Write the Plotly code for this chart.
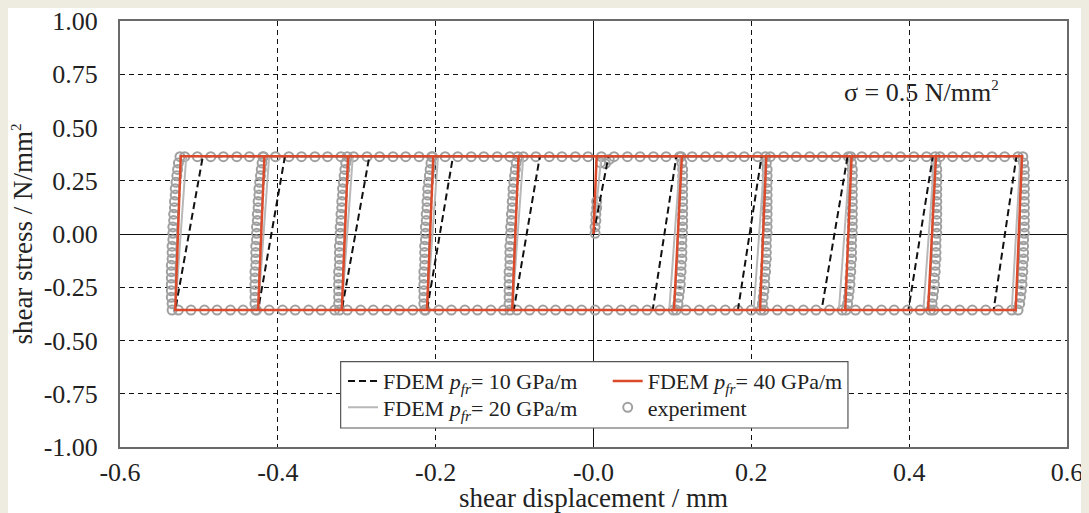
import plotly.graph_objects as go

# ---------------- data ----------------
# FDEM p_fr = 40 GPa/m (red)
fdem40_x = [0.000, 0.004, 0.112, 0.102, -0.103, -0.095, 0.219, 0.211, -0.211, -0.203,
            0.327, 0.319, -0.319, -0.311, 0.434, 0.424, -0.425, -0.417, 0.543, 0.535,
            -0.530, -0.523, 0.000]
fdem40_y = [0.000, 0.365, 0.365, -0.357, -0.357, 0.365, 0.365, -0.357, -0.357, 0.365,
            0.365, -0.357, -0.357, 0.365, 0.365, -0.357, -0.357, 0.365, 0.365, -0.357,
            -0.357, 0.365, 0.365]

# FDEM p_fr = 10 GPa/m (black dashed)
fdem10_x = [0.000, 0.019, 0.105, 0.075, -0.101, -0.068, 0.213, 0.183, -0.211, -0.178,
            0.322, 0.289, -0.319, -0.284, 0.430, 0.399, -0.425, -0.391, 0.536, 0.507,
            -0.530, -0.495, 0.000]
fdem10_y = [0.000, 0.365, 0.365, -0.357, -0.357, 0.365, 0.365, -0.357, -0.357, 0.365,
            0.365, -0.357, -0.357, 0.365, 0.365, -0.357, -0.357, 0.365, 0.365, -0.357,
            -0.357, 0.365, 0.365]

# FDEM p_fr = 20 GPa/m (grey)
fdem20_x = [0.000, 0.010, 0.110, 0.096, -0.103, -0.089, 0.217, 0.203, -0.211, -0.197,
            0.325, 0.311, -0.319, -0.305, 0.432, 0.418, -0.425, -0.411, 0.541, 0.530,
            -0.530, -0.516, 0.000]
fdem20_y = [0.000, 0.365, 0.365, -0.357, -0.357, 0.365, 0.365, -0.357, -0.357, 0.365,
            0.365, -0.357, -0.357, 0.365, 0.365, -0.357, -0.357, 0.365, 0.365, -0.357,
            -0.357, 0.365, 0.365]

# experiment (measured points)
exp_init_x = [0.002, 0.002, 0.003, 0.003, 0.004, 0.004, 0.009, 0.015, 0.020]
exp_init_y = [0.003, 0.033, 0.063, 0.093, 0.123, 0.153, 0.335, 0.330, 0.350]

exp_top_x = [-0.518, -0.502, -0.485, -0.469, -0.452, -0.436, -0.419, -0.403, -0.386, -0.370,
             -0.353, -0.337, -0.320, -0.304, -0.287, -0.271, -0.254, -0.238, -0.221, -0.205,
             -0.188, -0.172, -0.155, -0.139, -0.122, -0.106, -0.089, -0.073, -0.056, -0.040,
             -0.023, -0.007, 0.010, 0.026, 0.043, 0.059, 0.076, 0.092, 0.109, 0.125,
             0.142, 0.158, 0.175, 0.191, 0.208, 0.224, 0.241, 0.257, 0.274, 0.290,
             0.307, 0.323, 0.340, 0.356, 0.373, 0.389, 0.406, 0.422, 0.439, 0.455,
             0.472, 0.488, 0.505, 0.521, 0.538]
exp_top_y = 0.363

exp_bot_x = [-0.526, -0.510, -0.493, -0.477, -0.460, -0.444, -0.427, -0.411, -0.394, -0.378,
             -0.361, -0.345, -0.328, -0.312, -0.295, -0.279, -0.262, -0.246, -0.229, -0.213,
             -0.196, -0.180, -0.163, -0.147, -0.130, -0.114, -0.097, -0.081, -0.064, -0.048,
             -0.031, -0.015, 0.002, 0.018, 0.035, 0.051, 0.068, 0.084, 0.101, 0.117,
             0.134, 0.150, 0.167, 0.183, 0.200, 0.216, 0.233, 0.249, 0.266, 0.282,
             0.299, 0.315, 0.332, 0.348, 0.365, 0.381, 0.398, 0.414, 0.431, 0.447,
             0.464, 0.480, 0.497, 0.513, 0.530]
exp_bot_y = -0.357

# stress levels of the points recorded along each reversal
exp_rev_tau = [-0.357, -0.327, -0.297, -0.267, -0.237, -0.207, -0.177, -0.147, -0.117, -0.087,
               -0.057, -0.027, 0.003, 0.033, 0.063, 0.093, 0.123, 0.153, 0.183, 0.213,
               0.243, 0.273, 0.303, 0.333, 0.363]

exp_rev_x = [
    [-0.534, -0.534, -0.535, -0.535, -0.535, -0.535, -0.535, -0.535, -0.534, -0.534, -0.534, -0.533, -0.533,
     -0.533, -0.532, -0.532, -0.531, -0.531, -0.530, -0.530, -0.529, -0.528, -0.527, -0.526, -0.524],
    [-0.428, -0.429, -0.429, -0.429, -0.429, -0.429, -0.429, -0.428, -0.428, -0.428, -0.428, -0.427, -0.427,
     -0.427, -0.426, -0.426, -0.425, -0.425, -0.424, -0.424, -0.423, -0.422, -0.421, -0.420, -0.418],
    [-0.322, -0.323, -0.323, -0.323, -0.323, -0.323, -0.323, -0.322, -0.322, -0.322, -0.322, -0.321, -0.321,
     -0.321, -0.320, -0.320, -0.319, -0.319, -0.318, -0.318, -0.317, -0.316, -0.315, -0.314, -0.312],
    [-0.214, -0.215, -0.215, -0.215, -0.215, -0.215, -0.215, -0.214, -0.214, -0.214, -0.214, -0.213, -0.213,
     -0.213, -0.212, -0.212, -0.211, -0.211, -0.210, -0.210, -0.209, -0.208, -0.207, -0.206, -0.204],
    [-0.106, -0.107, -0.107, -0.107, -0.107, -0.107, -0.107, -0.106, -0.106, -0.106, -0.106, -0.105, -0.105,
     -0.105, -0.104, -0.104, -0.103, -0.103, -0.102, -0.102, -0.101, -0.100, -0.099, -0.098, -0.096],
    [0.105, 0.107, 0.108, 0.109, 0.110, 0.110, 0.111, 0.111, 0.112, 0.112, 0.112, 0.112, 0.113,
     0.113, 0.113, 0.113, 0.113, 0.113, 0.113, 0.113, 0.113, 0.113, 0.113, 0.112, 0.111],
    [0.212, 0.214, 0.215, 0.216, 0.217, 0.217, 0.218, 0.218, 0.219, 0.219, 0.219, 0.219, 0.220,
     0.220, 0.220, 0.220, 0.220, 0.220, 0.220, 0.220, 0.220, 0.220, 0.220, 0.219, 0.218],
    [0.320, 0.322, 0.323, 0.324, 0.325, 0.325, 0.326, 0.326, 0.327, 0.327, 0.327, 0.327, 0.328,
     0.328, 0.328, 0.328, 0.328, 0.328, 0.328, 0.328, 0.328, 0.328, 0.328, 0.327, 0.326],
    [0.427, 0.429, 0.430, 0.431, 0.432, 0.432, 0.433, 0.433, 0.434, 0.434, 0.434, 0.434, 0.435,
     0.435, 0.435, 0.435, 0.435, 0.435, 0.435, 0.435, 0.435, 0.435, 0.435, 0.434, 0.433],
    [0.538, 0.540, 0.541, 0.542, 0.543, 0.543, 0.544, 0.544, 0.545, 0.545, 0.545, 0.545, 0.546,
     0.546, 0.546, 0.546, 0.546, 0.546, 0.546, 0.546, 0.546, 0.546, 0.546, 0.545, 0.544],
]

x_tickvals = [-0.6, -0.4, -0.2, 0.0, 0.2, 0.4, 0.6]
x_ticktext = ["-0.6", "-0.4", "-0.2", "-0.0", "0.2", "0.4", "0.6"]
y_tickvals = [1.0, 0.75, 0.5, 0.25, 0.0, -0.25, -0.5, -0.75, -1.0]
y_ticktext = ["1.00", "0.75", "0.50", "0.25", "0.00", "-0.25", "-0.50", "-0.75", "-1.00"]

name10 = "FDEM <i>p</i><sub><i>fr</i></sub>= 10 GPa/m"
name20 = "FDEM <i>p</i><sub><i>fr</i></sub>= 20 GPa/m"
name40 = "FDEM <i>p</i><sub><i>fr</i></sub>= 40 GPa/m"

# assemble experiment series
exp_x = list(exp_init_x) + list(exp_top_x) + list(exp_bot_x)
exp_y = list(exp_init_y) + [exp_top_y] * len(exp_top_x) + [exp_bot_y] * len(exp_bot_x)
for col in exp_rev_x:
    exp_x += col
    exp_y += exp_rev_tau

FONT = "Liberation Serif"
TXT = "#222222"

fig = go.Figure()
fig.add_trace(go.Scatter(
    x=exp_x, y=exp_y, mode="markers", name="experiment", legend="legend4",
    marker=dict(symbol="circle-open", size=9, color="#a0a0a0", line=dict(width=2, color="#a0a0a0")),
))
fig.add_trace(go.Scatter(
    x=fdem20_x, y=fdem20_y, mode="lines", name=name20, legend="legend2",
    line=dict(color="#b8b8b8", width=2),
))
fig.add_trace(go.Scatter(
    x=fdem10_x, y=fdem10_y, mode="lines", name=name10, legend="legend",
    line=dict(color="#111111", width=2, dash="7px,4px"),
))
fig.add_trace(go.Scatter(
    x=fdem40_x, y=fdem40_y, mode="lines", name=name40, legend="legend3",
    line=dict(color="#dc4a2c", width=2.5),
))

fig.add_annotation(
    x=0.846, y=0.834, xref="paper", yref="paper", showarrow=False,
    xanchor="center", yanchor="middle",
    text="σ = 0.5 N/mm<sup><span style='font-size:15px'>2</span></sup>",
    font=dict(family=FONT, size=26, color=TXT),
)

# legend frame
fig.add_shape(type="rect", xref="paper", yref="paper", x0=0.233, x1=0.7687, y0=0.0446, y1=0.2002,
              fillcolor="white", line=dict(width=1.2, color="#555555"), layer="above")

axis_common = dict(
    automargin=False, ticklabeloverflow="allow",
    showgrid=True, gridcolor="#111111", gridwidth=1, griddash="5px,4px",
    zeroline=True, zerolinecolor="#111111", zerolinewidth=1,
    showline=True, mirror=True, linecolor="#6a6a6a", linewidth=2,
    ticks="", tickfont=dict(family=FONT, size=26, color=TXT),
)

leg_common = dict(
    orientation="v", xanchor="left", yanchor="top",
    bgcolor="rgba(0,0,0,0)", borderwidth=0,
    font=dict(family=FONT, size=22, color=TXT), tracegroupgap=0,
)

fig.update_layout(
    width=1077, height=505,
    margin=dict(l=112, r=18, t=13, b=66),
    paper_bgcolor="white", plot_bgcolor="white",
    font=dict(family=FONT, color=TXT),
    showlegend=True,
    legend=dict(x=0.2355, y=0.204, **leg_common),
    legend2=dict(x=0.2355, y=0.142, **leg_common),
    legend3=dict(x=0.515, y=0.204, **leg_common),
    legend4=dict(x=0.515, y=0.142, **leg_common),
    xaxis=dict(
        range=[-0.6, 0.6], tickvals=x_tickvals, ticktext=x_ticktext,
        ticklabelstandoff=1,
        title=dict(text="shear displacement / mm", font=dict(family=FONT, size=27, color=TXT), standoff=3),
        **axis_common,
    ),
    yaxis=dict(
        range=[-1.0, 1.0], tickvals=y_tickvals, ticktext=y_ticktext,
        ticklabelstandoff=15,
        title=dict(text="shear stress / N/mm<sup><span style='font-size:15px'>2</span></sup>",
                   font=dict(family=FONT, size=27, color=TXT), standoff=3),
        **axis_common,
    ),
)

fig.write_html("out.html", post_script="document.body.style.background='#eeebe1';")
